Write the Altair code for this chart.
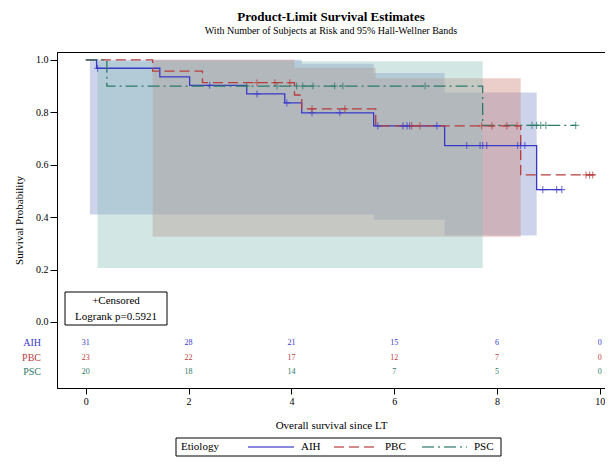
import altair as alt
import pandas as pd

FONT = "Liberation Serif"
groups = ["AIH", "PBC", "PSC"]
line_colors = ["#3838c8", "#b83c3c", "#2b7a68"]
text_colors = ["#3535c5", "#c03535", "#2a8070"]
band_colors = ["#8091cb", "#ce8577", "#8fc1bc"]
dashes = [[1, 0], [10, 5], [12, 4, 2, 4]]

# Kaplan-Meier step curves (time, survival)
aih_t = [0, 0.21, 1.44, 2.02, 3.13, 3.87, 4.2, 5.6, 6.98, 8.77, 9.26]
aih_s = [1.0, 0.968, 0.935, 0.903, 0.870, 0.836, 0.798, 0.748, 0.673, 0.505, 0.505]
pbc_t = [0, 1.3, 2.27, 4.06, 4.2, 5.64, 8.46, 9.9]
pbc_s = [1.0, 0.957, 0.913, 0.866, 0.813, 0.748, 0.561, 0.561]
psc_t = [0, 0.41, 7.72, 9.53]
psc_s = [1.0, 0.9, 0.75, 0.75]

# censored times
aih_cens = [0.23, 2.41, 3.33, 3.91, 4.40, 4.94, 5.68, 6.17, 6.25, 6.30, 6.83,
            7.41, 7.67, 7.72, 7.80, 8.40, 8.46, 8.54, 8.89, 9.16, 9.26]
pbc_cens = [3.33, 3.68, 3.97, 4.4, 5.04, 6.34, 6.5, 7.7, 7.9, 8.19, 8.39, 9.73, 9.8, 9.86]
psc_cens = [3.13, 3.72, 4.1, 4.22, 4.42, 4.84, 5.0, 6.6, 8.68, 8.77, 8.85, 8.95, 9.53]

# Hall-Wellner bands (step)
aih_band_t = [0.08, 4.2, 5.6, 6.98, 8.77]
aih_lo = [0.41, 0.41, 0.39, 0.33, 0.33]
aih_hi = [1.0, 0.985, 0.95, 0.875, 0.875]
pbc_band_t = [1.3, 4.06, 5.64, 8.46]
pbc_lo = [0.325, 0.325, 0.325, 0.325]
pbc_hi = [1.0, 0.97, 0.93, 0.93]
psc_band_t = [0.23, 7.72]
psc_lo = [0.206, 0.206]
psc_hi = [0.995, 0.995]

# number at risk
risk_times = [0, 2, 4, 6, 8, 10]
aih_risk = [31, 28, 21, 15, 6, 0]
pbc_risk = [23, 22, 17, 12, 7, 0]
psc_risk = [20, 18, 14, 7, 5, 0]

curves = {"AIH": (aih_t, aih_s), "PBC": (pbc_t, pbc_s), "PSC": (psc_t, psc_s)}
cens = {"AIH": aih_cens, "PBC": pbc_cens, "PSC": psc_cens}
bands = {"AIH": (aih_band_t, aih_lo, aih_hi), "PBC": (pbc_band_t, pbc_lo, pbc_hi),
         "PSC": (psc_band_t, psc_lo, psc_hi)}
risks = {"AIH": aih_risk, "PBC": pbc_risk, "PSC": psc_risk}


def step_value(ts, ss, t):
    v = ss[0]
    for ti, si in zip(ts, ss):
        if ti <= t:
            v = si
    return v


line_rows, cens_rows, risk_rows = [], [], []
for g in groups:
    ts, ss = curves[g]
    for t, s in zip(ts, ss):
        line_rows.append({"Etiology": g, "t": t, "s": s})
    for t in cens[g]:
        cens_rows.append({"Etiology": g, "t": t, "s": step_value(ts, ss, t)})
row_y = {g: -0.08 - 0.056 * i for i, g in enumerate(groups)}
for g in groups:
    for t, n in zip(risk_times, risks[g]):
        risk_rows.append({"Etiology": g, "t": t, "y": row_y[g], "n": str(n)})
lines_df = pd.DataFrame(line_rows)
cens_df = pd.DataFrame(cens_rows)
risk_df = pd.DataFrame(risk_rows)
label_df = pd.DataFrame({"Etiology": groups, "y": [row_y[g] for g in groups]})

xscale = alt.Scale(domain=[-0.56, 10.1], nice=False, zero=False)
yscale = alt.Scale(domain=[-0.252, 1.03], nice=False, zero=False)
cscale = alt.Scale(domain=groups, range=line_colors)

xaxis = alt.Axis(values=risk_times, format="d", title="Overall survival since LT",
                 grid=False, tickSize=6, labelPadding=2, labelFontSize=10,
                 titleFontSize=11, titleFontWeight="normal", titlePadding=13)
yaxis = alt.Axis(values=[0, 0.2, 0.4, 0.6, 0.8, 1.0], format=".1f",
                 title="Survival Probability", grid=False, tickSize=7,
                 labelPadding=2, labelFontSize=10, titleFontSize=11,
                 titleFontWeight="normal", titlePadding=11)

layers = []
for g, col in zip(groups, band_colors):
    bt, lo, hi = bands[g]
    bdf = pd.DataFrame({"t": bt, "lo": lo, "hi": hi})
    layers.append(
        alt.Chart(bdf).mark_area(interpolate="step-after", color=col, opacity=0.4)
        .encode(x=alt.X("t:Q", scale=xscale, axis=xaxis),
                y=alt.Y("lo:Q", scale=yscale, axis=yaxis),
                y2="hi:Q")
    )

layers.append(
    alt.Chart(lines_df).mark_line(interpolate="step-after", strokeWidth=1.3)
    .encode(x="t:Q", y="s:Q",
            color=alt.Color("Etiology:N", scale=cscale, legend=None),
            strokeDash=alt.StrokeDash("Etiology:N",
                                      scale=alt.Scale(domain=groups, range=dashes),
                                      legend=None),
            order=alt.Order("t:Q"))
)
layers.append(
    alt.Chart(cens_df).mark_point(shape="M-1,0L1,0M0,-1L0,1", size=50, filled=False,
                                  strokeWidth=1.1)
    .encode(x="t:Q", y="s:Q", color=alt.Color("Etiology:N", legend=None))
)
layers.append(
    alt.Chart(risk_df).mark_text(font=FONT, fontSize=8)
    .encode(x="t:Q", y="y:Q", text="n:N",
            color=alt.Color("Etiology:N", legend=None))
)
layers.append(
    alt.Chart(label_df).mark_text(font=FONT, fontSize=10, align="right")
    .encode(x=alt.value(-16), y="y:Q", text="Etiology:N",
            color=alt.Color("Etiology:N", legend=None))
)

# censored / logrank box
box_df = pd.DataFrame({"line1": ["+Censored"], "line2": ["Logrank p=0.5921"]})
layers.append(
    alt.Chart(box_df).mark_rect(fill="white", stroke="black", strokeWidth=1)
    .encode(x=alt.value(8), x2=alt.value(110), y=alt.value(240), y2=alt.value(273))
)
layers.append(
    alt.Chart(box_df).mark_text(font=FONT, fontSize=11)
    .encode(x=alt.value(59), y=alt.value(249), text="line1:N")
)
layers.append(
    alt.Chart(box_df).mark_text(font=FONT, fontSize=11)
    .encode(x=alt.value(59), y=alt.value(265), text="line2:N")
)

# legend (drawn below the plot area)
leg_df = pd.DataFrame({"title": ["Etiology"]})
layers.append(
    alt.Chart(leg_df).mark_rect(fill="white", stroke="black", strokeWidth=1)
    .encode(x=alt.value(119), x2=alt.value(444), y=alt.value(386), y2=alt.value(404))
)
layers.append(
    alt.Chart(leg_df).mark_text(font=FONT, fontSize=11, align="left")
    .encode(x=alt.value(124), y=alt.value(395), text="title:N")
)
leg_line_x = [191, 277, 365]
leg_line_w = [46, 44, 45]
for g, col, dash, lx, lw in zip(groups, line_colors, dashes, leg_line_x, leg_line_w):
    gdf = pd.DataFrame({"Etiology": [g]})
    layers.append(
        alt.Chart(gdf).mark_rule(color=col, strokeDash=dash, strokeWidth=1.3, opacity=0.8)
        .encode(x=alt.value(lx), x2=alt.value(lx + lw), y=alt.value(395))
    )
    layers.append(
        alt.Chart(gdf).mark_text(font=FONT, fontSize=11, align="left")
        .encode(x=alt.value(lx + lw + 7), y=alt.value(395), text="Etiology:N")
    )

chart = alt.layer(*layers).properties(
    width=548, height=336,
    padding={"left": 49, "top": 44, "right": 0, "bottom": 70},
    autosize=alt.AutoSizeParams(type="none"),
    title=alt.TitleParams("Product-Limit Survival Estimates",
                          subtitle="With Number of Subjects at Risk and 95% Hall-Wellner Bands",
                          font=FONT, fontSize=13, fontWeight="bold",
                          subtitleFont=FONT, subtitleFontSize=10, subtitlePadding=2,
                          anchor="middle", offset=16),
).configure_view(stroke="black", strokeWidth=1).configure_axis(
    labelFont=FONT, titleFont=FONT, domainColor="black", tickColor="black",
    labelColor="black", titleColor="black"
)

chart.save("out.html", embed_options={"renderer": "svg", "actions": False})
